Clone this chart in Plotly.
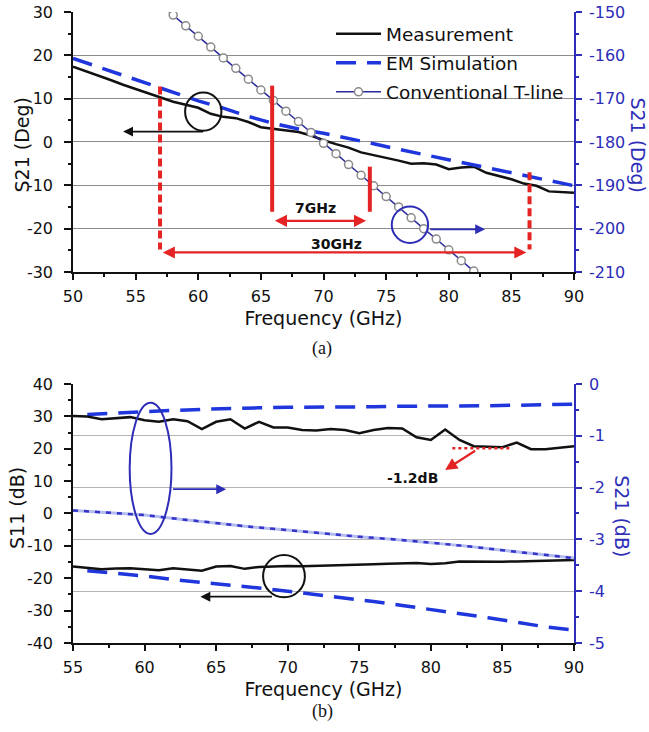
import plotly.graph_objects as go

# ---------------- Panel (a): S21 phase ----------------
freq_a = list(range(50, 91))
s21_meas_deg = [17.4, 16.4, 15.3, 14.3, 13.2, 12.2, 11.2, 10.2, 9.3, 8.6,
                7.9, 6.5, 5.8, 5.5, 4.6, 3.4, 3.0, 2.7, 2.3, 1.5,
                0.4, -0.5, -1.3, -2.4, -3.0, -3.6, -4.3, -5.0, -4.9, -5.2,
                -6.3, -5.9, -5.7, -7.1, -7.9, -8.6, -9.6, -10.1, -11.4, -11.5,
                -11.7]
freq_em_a = list(range(50, 91, 2))
s21_em_deg = [19.3, 17.3, 15.4, 13.5, 11.4, 9.5, 7.8, 5.9, 4.3, 3.0,
              2.0, 0.9, -0.4, -1.7, -2.9, -4.1, -5.3, -6.5, -7.7, -8.9, -10.1]
freq_tline = list(range(57, 84))
s21_tline_deg = [-148.3, -150.7, -153.2, -155.6, -158.1, -160.6, -163.0, -165.5,
                 -168.0, -170.4, -172.9, -175.3, -177.8, -180.3, -182.7, -185.2,
                 -187.7, -190.1, -192.6, -195.0, -197.5, -200.0, -202.4, -204.9,
                 -207.4, -209.8, -212.3]

# tick labels (panel a)
xticks_a = [50, 55, 60, 65, 70, 75, 80, 85, 90]
yticks_a = [-30, -20, -10, 0, 10, 20, 30]
yticks_a_text = ["-30", "-20", "-10", "0", "10", "20", "30"]
y2ticks_a = [-210, -200, -190, -180, -170, -160, -150]
y2ticks_a_text = ["-210", "-200", "-190", "-180", "-170", "-160", "-150"]

# annotation values (panel a)
band30_f = [56.95, 86.45]
band30_top = [12.8, -7.0]
band30_bottom = -24.8
band30_arrow_y = -25.5
band7_f = [65.9, 73.7]
band7_top = [13.0, -5.7]
band7_bottom = -16.1
band7_arrow_y = -18.2

# ---------------- Panel (b): S11 / S21 magnitude ----------------
freq_b = list(range(55, 91))
s21_meas_db = [-0.62, -0.63, -0.68, -0.66, -0.64, -0.70, -0.73, -0.68, -0.72, -0.87,
               -0.73, -0.68, -0.86, -0.73, -0.84, -0.84, -0.89, -0.90, -0.87, -0.89,
               -0.95, -0.89, -0.85, -0.86, -1.03, -1.08, -0.88, -1.08, -1.20, -1.21,
               -1.22, -1.13, -1.26, -1.26, -1.23, -1.20]
s11_meas_db = [-16.4, -16.8, -17.2, -17.0, -16.9, -17.2, -17.5, -16.9, -17.2, -17.7,
               -16.4, -16.2, -17.1, -16.5, -16.4, -16.2, -16.3, -16.2, -16.2, -16.0,
               -15.9, -15.7, -15.5, -15.4, -15.3, -15.6, -15.4, -14.8, -14.9, -14.9,
               -14.9, -14.8, -14.7, -14.7, -14.5, -14.4]
freq_em_b = list(range(56, 91, 2))
s21_em_db = [-0.59, -0.56, -0.53, -0.51, -0.49, -0.47, -0.46, -0.45, -0.45,
             -0.44, -0.44, -0.43, -0.43, -0.42, -0.42, -0.41, -0.40, -0.39]
s11_em_db = [-17.7, -18.5, -19.3, -20.4, -21.2, -22.1, -23.0, -24.0, -25.0,
             -26.1, -27.2, -28.4, -29.6, -30.9, -32.2, -33.6, -35.0, -36.0]
freq_tl_b = [55, 57.5, 60, 62.5, 65, 67.5, 70, 72.5, 75, 77.5, 80, 82.5, 85, 87.5, 90]
s21_tline_db = [-2.44, -2.48, -2.53, -2.61, -2.69, -2.76, -2.82, -2.89, -2.95,
                -3.00, -3.06, -3.13, -3.21, -3.28, -3.36]
loss_level_db = -1.24
loss_span_f = [81.5, 85.7]

# tick labels (panel b)
xticks_b = [55, 60, 65, 70, 75, 80, 85, 90]
yticks_b = [-40, -30, -20, -10, 0, 10, 20, 30, 40]
yticks_b_text = ["-40", "-30", "-20", "-10", "0", "10", "20", "30", "40"]
y2ticks_b = [-5, -4, -3, -2, -1, 0]
y2ticks_b_text = ["-5", "-4", "-3", "-2", "-1", "0"]

BLACK = "#111111"
BLUE_AX = "#2d2db8"
BLUE_DASH = "#1f36dc"
NAVY = "#2a2a9c"
RED = "#e42424"
FONT = "DejaVu Sans"
DASH = "20px,11px"

fig = go.Figure()

# Panel (a)
fig.add_trace(go.Scatter(x=freq_a, y=s21_meas_deg, name="Measurement", mode="lines",
                         line=dict(color=BLACK, width=2.5), xaxis="x", yaxis="y",
                         legendgroup="g1"))
fig.add_trace(go.Scatter(x=freq_em_a, y=s21_em_deg, name="EM Simulation", mode="lines",
                         line=dict(color=BLUE_DASH, width=3.5, dash=DASH), xaxis="x", yaxis="y",
                         legendgroup="g2"))
fig.add_trace(go.Scatter(x=freq_tline, y=s21_tline_deg, name="Conventional T-line",
                         mode="lines+markers",
                         line=dict(color=NAVY, width=1.5),
                         marker=dict(symbol="circle", size=8, color="white",
                                     line=dict(color="#8a8a8a", width=1.5)),
                         xaxis="x", yaxis="y2", legendgroup="g3"))

# Panel (b)
fig.add_trace(go.Scatter(x=freq_tl_b, y=s21_tline_db, mode="lines", showlegend=False,
                         line=dict(color="#b4bcf0", width=3), xaxis="x3", yaxis="y4"))
fig.add_trace(go.Scatter(x=freq_tl_b, y=s21_tline_db, mode="lines", showlegend=False,
                         line=dict(color="#3434c8", width=2.5, dash="5px,6px"),
                         xaxis="x3", yaxis="y4"))
fig.add_trace(go.Scatter(x=freq_em_b, y=s21_em_db, mode="lines", showlegend=False,
                         line=dict(color=BLUE_DASH, width=3.5, dash=DASH), xaxis="x3", yaxis="y4"))
fig.add_trace(go.Scatter(x=freq_b, y=s21_meas_db, mode="lines", showlegend=False,
                         line=dict(color=BLACK, width=2.5), xaxis="x3", yaxis="y4"))
fig.add_trace(go.Scatter(x=freq_em_b, y=s11_em_db, mode="lines", showlegend=False,
                         line=dict(color=BLUE_DASH, width=3.5, dash=DASH), xaxis="x3", yaxis="y3"))
fig.add_trace(go.Scatter(x=freq_b, y=s11_meas_db, mode="lines", showlegend=False,
                         line=dict(color=BLACK, width=2.5), xaxis="x3", yaxis="y3"))

tickfont = dict(family=FONT, size=16, color=BLACK)
tickfont_b = dict(family=FONT, size=16, color=BLUE_AX)
titlefont = dict(family=FONT, size=19, color=BLACK)

def xax(rng, anchor, ticks, dom_title):
    return dict(range=rng, domain=[0, 1], anchor=anchor, tickmode="array", tickvals=ticks,
                ticktext=[str(t) for t in ticks], ticks="outside", ticklen=6,
                tickwidth=1.5, tickcolor=BLACK, showline=True, linecolor=BLACK, linewidth=1.5,
                showgrid=False, zeroline=False, tickfont=tickfont, ticklabelstandoff=3,
                automargin=False, ticklabeloverflow="allow",
                minor=dict(tickmode="linear", tick0=rng[0], dtick=2.5, ticks="outside",
                           ticklen=3, tickcolor=BLACK),
                title=dict(text=dom_title, font=titlefont, standoff=7))

def xtop(over, anchor, rng):
    return dict(overlaying=over, side="top", anchor=anchor, range=rng, dtick=5, tick0=rng[0],
                ticks="inside", ticklen=6, tickwidth=1.5, tickcolor=BLACK, showline=True,
                linecolor=BLACK, linewidth=1.5, showgrid=False, zeroline=False,
                showticklabels=False, automargin=False,
                minor=dict(dtick=2.5, ticks="inside", ticklen=3, tickcolor=BLACK))

def yleft(rng, dom, anchor, tv, tt, mdtick, grid):
    return dict(range=rng, domain=dom, anchor=anchor, tickmode="array", tickvals=tv, ticktext=tt,
                ticks="outside", ticklen=7,
                tickwidth=1.5, tickcolor=BLACK, showline=True, linecolor=BLACK, linewidth=1.5,
                showgrid=grid, gridcolor="#8c8c8c", gridwidth=1, zeroline=False,
                tickfont=tickfont, ticklabelstandoff=8, automargin=False,
                ticklabeloverflow="allow",
                minor=dict(tickmode="linear", tick0=rng[0], dtick=mdtick, ticks="outside",
                           ticklen=3, tickcolor=BLACK))

def yright(rng, over, anchor, tv, tt, mdtick, grid):
    return dict(range=rng, overlaying=over, side="right", anchor=anchor, tickmode="array",
                tickvals=tv, ticktext=tt,
                ticks="outside", ticklen=6, tickwidth=1.5, tickcolor=BLUE_AX, showline=True,
                linecolor=BLUE_AX, linewidth=1.5, showgrid=grid, gridcolor="#b4b4b4",
                gridwidth=1, zeroline=False, tickfont=tickfont_b, ticklabelstandoff=4,
                automargin=False, ticklabeloverflow="allow",
                minor=dict(tickmode="linear", tick0=rng[0], dtick=mdtick, ticks="outside",
                           ticklen=3, tickcolor=BLUE_AX))

TOP_DOM = [0.588, 1.0]
BOT_DOM = [0.0, 0.4105]

fig.update_layout(
    width=649, height=732,
    margin=dict(l=73, r=75, t=12, b=89, autoexpand=False),
    paper_bgcolor="white", plot_bgcolor="white",
    font=dict(family=FONT, color=BLACK),
    xaxis=xax([50, 90], "y", xticks_a, "Frequency (GHz)"),
    xaxis2=xtop("x", "y", [50, 90]),
    yaxis=yleft([-30, 30], TOP_DOM, "x", yticks_a, yticks_a_text, 5, True),
    yaxis2=yright([-210, -150], "y", "x", y2ticks_a, y2ticks_a_text, 5, False),
    xaxis3=xax([55, 90], "y3", xticks_b, "Frequency (GHz)"),
    xaxis4=xtop("x3", "y3", [55, 90]),
    yaxis3=yleft([-40, 40], BOT_DOM, "x3", yticks_b, yticks_b_text, 5, False),
    yaxis4=yright([-5, 0], "y3", "x3", y2ticks_b, y2ticks_b_text, 0.5, True),
    legend=dict(x=0.515, y=0.995, xanchor="left", yanchor="top",
                bgcolor="rgba(0,0,0,0)", font=dict(family=FONT, size=18.5, color=BLACK),
                tracegroupgap=2, itemwidth=45),
    showlegend=True,
)

shapes = []
# red band markers (panel a)
shapes.append(dict(type="line", xref="x", yref="y", x0=band30_f[0], x1=band30_f[0],
                   y0=band30_top[0], y1=band30_bottom, line=dict(color=RED, width=4, dash="8px,4px")))
shapes.append(dict(type="line", xref="x", yref="y", x0=band30_f[1], x1=band30_f[1],
                   y0=band30_top[1], y1=band30_bottom, line=dict(color=RED, width=4, dash="8px,4px")))
shapes.append(dict(type="line", xref="x", yref="y", x0=band7_f[0], x1=band7_f[0],
                   y0=band7_top[0], y1=band7_bottom, line=dict(color=RED, width=4)))
shapes.append(dict(type="line", xref="x", yref="y", x0=band7_f[1], x1=band7_f[1],
                   y0=band7_top[1], y1=band7_bottom, line=dict(color=RED, width=4)))
# circles (panel a)
shapes.append(dict(type="circle", xref="x", yref="y", x0=58.95, x1=61.85, y0=2.6, y1=11.4,
                   line=dict(color=BLACK, width=2)))
shapes.append(dict(type="circle", xref="x", yref="y2", x0=75.45, x1=78.35, y0=-203.3, y1=-194.9,
                   line=dict(color=BLUE_AX, width=2)))
# panel b ellipse and circle
shapes.append(dict(type="circle", xref="x3", yref="y3", x0=58.96, x1=61.88, y0=-6.3, y1=34.2,
                   line=dict(color=BLUE_AX, width=2)))
shapes.append(dict(type="circle", xref="x3", yref="y3", x0=68.28, x1=71.2, y0=-25.9, y1=-12.8,
                   line=dict(color=BLACK, width=2)))
# -1.2 dB level
shapes.append(dict(type="line", xref="x3", yref="y4", x0=loss_span_f[0], x1=loss_span_f[1],
                   y0=loss_level_db, y1=loss_level_db, line=dict(color=RED, width=2.5, dash="dot")))

ann = []
def arrow(xh, yh, xt, yt, xr, yr, color, width=1.8, both=False):
    return dict(x=xh, y=yh, ax=xt, ay=yt, xref=xr, yref=yr, axref=xr, ayref=yr,
                text="", showarrow=True, arrowhead=2, arrowsize=1.1, arrowwidth=width,
                arrowcolor=color, arrowside="end+start" if both else "end",
                standoff=0, startstandoff=0)

ann.append(arrow(band7_f[1] - 0.3, band7_arrow_y, band7_f[0] + 0.1, band7_arrow_y, "x", "y", RED, 2.2, True))
ann.append(arrow(band30_f[1] - 0.25, band30_arrow_y, band30_f[0] + 0.1, band30_arrow_y, "x", "y", RED, 2.2, True))
ann.append(dict(x=69.4, y=-15.3, xref="x", yref="y", text="<b>7GHz</b>", showarrow=False,
                font=dict(family=FONT, size=14, color=BLACK)))
ann.append(dict(x=71.0, y=-23.6, xref="x", yref="y", text="<b>30GHz</b>", showarrow=False,
                font=dict(family=FONT, size=14, color=BLACK)))
ann.append(arrow(54.0, 2.4, 60.5, 2.4, "x", "y", BLACK, 1.8))
ann.append(arrow(82.9, -200.15, 78.4, -200.15, "x", "y2", BLUE_AX, 1.8))
# panel b arrows
ann.append(arrow(65.7, 7.5, 61.88, 7.5, "x3", "y3", BLUE_AX, 1.8))
ann.append(arrow(63.9, -25.7, 69.0, -25.7, "x3", "y3", BLACK, 1.8))
ann.append(arrow(81.0, -1.66, 83.2, -1.27, "x3", "y4", RED, 2.2))
ann.append(dict(x=78.7, y=-1.82, xref="x3", yref="y4", text="<b>-1.2dB</b>", showarrow=False,
                font=dict(family=FONT, size=14, color=BLACK)))

# y-axis titles
ann.append(dict(x=-0.1018, y=0.790, xref="paper", yref="paper", text="S21 (Deg)", textangle=-90,
                showarrow=False, font=titlefont, xanchor="center", yanchor="middle"))
ann.append(dict(x=1.128, y=0.790, xref="paper", yref="paper", text="S21 (Deg)", textangle=90,
                showarrow=False, font=dict(family=FONT, size=19, color=BLUE_AX),
                xanchor="center", yanchor="middle"))
ann.append(dict(x=-0.1118, y=0.214, xref="paper", yref="paper", text="S11 (dB)", textangle=-90,
                showarrow=False, font=titlefont, xanchor="center", yanchor="middle"))
ann.append(dict(x=1.0958, y=0.201, xref="paper", yref="paper", text="S21 (dB)", textangle=90,
                showarrow=False, font=dict(family=FONT, size=19, color=BLUE_AX),
                xanchor="center", yanchor="middle"))
# panel labels
ann.append(dict(x=0.498, y=(643 - 348) / 631, xref="paper", yref="paper", text="(a)",
                showarrow=False, xanchor="center", yanchor="middle",
                font=dict(family="Liberation Serif", size=18, color=BLACK)))
ann.append(dict(x=0.498, y=(643 - 711) / 631, xref="paper", yref="paper", text="(b)",
                showarrow=False, xanchor="center", yanchor="middle",
                font=dict(family="Liberation Serif", size=18, color=BLACK)))

fig.update_layout(shapes=shapes, annotations=ann)
# remove the browser's default 8 px page margin so the figure sits at the window origin
fig.write_html("out.html", config={"displayModeBar": False},
               post_script="document.body.style.margin='0';")
